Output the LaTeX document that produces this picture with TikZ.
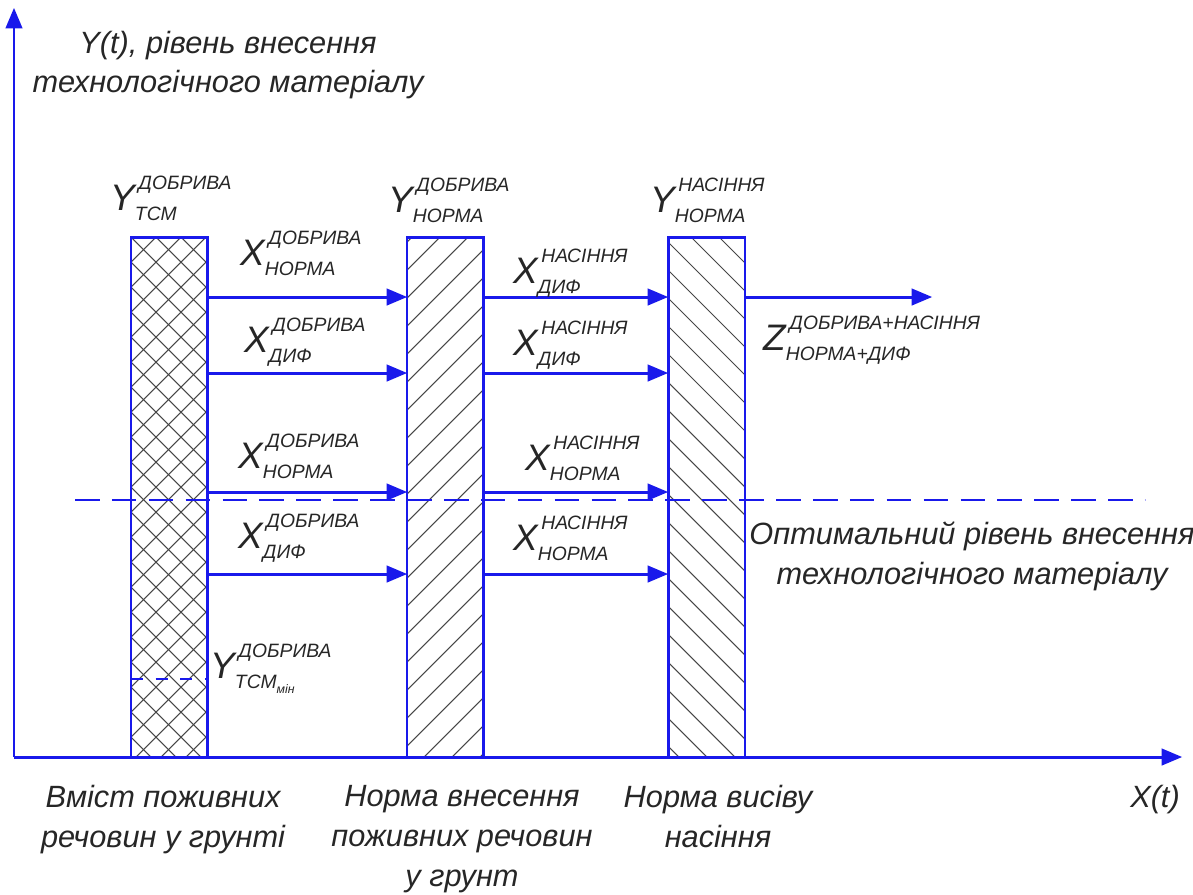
\documentclass[tikz,border=0pt]{standalone}
\usepackage{fontspec}
\setmainfont{Liberation Sans}
\usepackage{xcolor}
\usepackage{tikz}
\usetikzlibrary{arrows}

\definecolor{lineblue}{RGB}{25,25,235}
\definecolor{hatchgray}{RGB}{70,70,70}

\newcommand{\lbl}[3]{{\fontsize{21}{21}\selectfont #1}\raisebox{-5.7pt}{\fontsize{11}{17.5}\selectfont\begin{tabular}[b]{@{}l@{}}\hspace{2pt}#2\\#3\end{tabular}}}

\begin{document}
\begin{tikzpicture}[x=0.02cm, y=-0.02cm,
 bar/.style={draw=lineblue, line width=1.7pt, inner sep=0pt, outer sep=0pt, minimum width=1.54cm, minimum height=10.4cm, anchor=south west},
 hatch/.style={draw=hatchgray, line width=0.6pt},
 flow/.style={draw=lineblue, line width=1.7pt, -triangle 45},
 optline/.style={draw=lineblue, line width=1.6pt, dash pattern=on 14pt off 7pt},
 lab/.style={text=black!85, inner sep=0pt, anchor=base west, font=\itshape},
 note/.style={text=black!85, inner sep=0pt, align=center, font=\fontsize{17.5}{22.7}\selectfont\itshape}]
 \useasboundingbox (0,0) rectangle (1193,894);

 \coordinate (o) at (14,757);
 \coordinate (yEnd) at (14,8);
 \coordinate (xEnd) at (1182,757);

 \node[bar] (tcm) at (131,757) {};
 \node[bar] (norm) at (407,757) {};
 \node[bar] (seed) at (668,757) {};

 % hatching
 \begin{scope}
  \clip (tcm.south west) rectangle (tcm.north east);
  \foreach \k in {137,162,...,862}
  { \draw[hatch] (131,\k) -- ++(100,-100);
    \draw[hatch] (131,\k) -- ++(100,100); }
 \end{scope}
 \begin{scope}
  \clip (norm.south west) rectangle (norm.north east);
  \foreach \k in {130,158,...,870}
   \draw[hatch] (407,\k) -- ++(100,-100);
 \end{scope}
 \begin{scope}
  \clip (seed.south west) rectangle (seed.north east);
  \foreach \k in {130,158,...,870}
   \draw[hatch] (668,\k) -- ++(100,100);
 \end{scope}
 \node[bar] at (131,757) {};
 \node[bar] at (407,757) {};
 \node[bar] at (668,757) {};

 \draw[flow] (o) -- (yEnd);
 \draw[flow] (o) -- (xEnd);

 \coordinate (r1) at (0,297);
 \coordinate (r2) at (0,373);
 \coordinate (r3) at (0,492);
 \coordinate (r4) at (0,574);
 \coordinate (zEnd) at (932,297);
 \coordinate (tmin) at (0,679);
 \coordinate (optL) at (75,500);
 \coordinate (optR) at (1145,500);

 \foreach \r in {r1,r2,r3,r4}
 { \draw[flow] (tcm.east |- \r) -- (norm.west |- \r);
   \draw[flow] (norm.east |- \r) -- (seed.west |- \r); }
 \draw[flow] (seed.east |- r1) -- (zEnd);

 \draw[optline] (optL) -- (optR);
 \draw[optline, line width=1.3pt, dash pattern=on 7pt off 7pt] (tcm.west |- tmin) -- (tcm.east |- tmin);

 \node[note] (yAx) at (228,65) {Y(t), рівень внесення\\технологічного матеріалу};
 \node[note] (optTxt) at (972,556) {Оптимальний рівень внесення\\технологічного матеріалу};
 \node[note, anchor=north] (tcmTxt) at (163,785) {Вміст поживних\\речовин у грунті};
 \node[note, anchor=north] (normTxt) at (462,785) {Норма внесення\\поживних речовин\\у грунт};
 \node[note, anchor=north] (seedTxt) at (718,785) {Норма висіву\\насіння};
 \node[note] (xAx) at (1155,800) {X(t)};

 \node[lab] (yTcm) at (110,210) {\lbl{Y}{ДОБРИВА}{ТСМ}};
 \node[lab] (yNormD) at (388,212) {\lbl{Y}{ДОБРИВА}{НОРМА}};
 \node[lab] (yNormN) at (650,212) {\lbl{Y}{НАСІННЯ}{НОРМА}};
 \node[lab] (x1) at (240,265) {\lbl{X}{ДОБРИВА}{НОРМА}};
 \node[lab] (x2) at (244,352) {\lbl{X}{ДОБРИВА}{ДИФ}};
 \node[lab] (x3) at (238,468) {\lbl{X}{ДОБРИВА}{НОРМА}};
 \node[lab] (x4) at (238,548) {\lbl{X}{ДОБРИВА}{ДИФ}};
 \node[lab] (x5) at (513,283) {\lbl{X}{НАСІННЯ}{ДИФ}};
 \node[lab] (x6) at (513,355) {\lbl{X}{НАСІННЯ}{ДИФ}};
 \node[lab] (x7) at (525,470) {\lbl{X}{НАСІННЯ}{НОРМА}};
 \node[lab] (x8) at (513,550) {\lbl{X}{НАСІННЯ}{НОРМА}};
 \node[lab] (z) at (763,350) {\lbl{Z}{ДОБРИВА+НАСІННЯ}{НОРМА+ДИФ}};
 \node[lab] (yMin) at (210,678) {\lbl{Y}{ДОБРИВА}{ТСМ\raisebox{-3pt}{\fontsize{7}{7}\selectfont мін}}};
\end{tikzpicture}
\end{document}
